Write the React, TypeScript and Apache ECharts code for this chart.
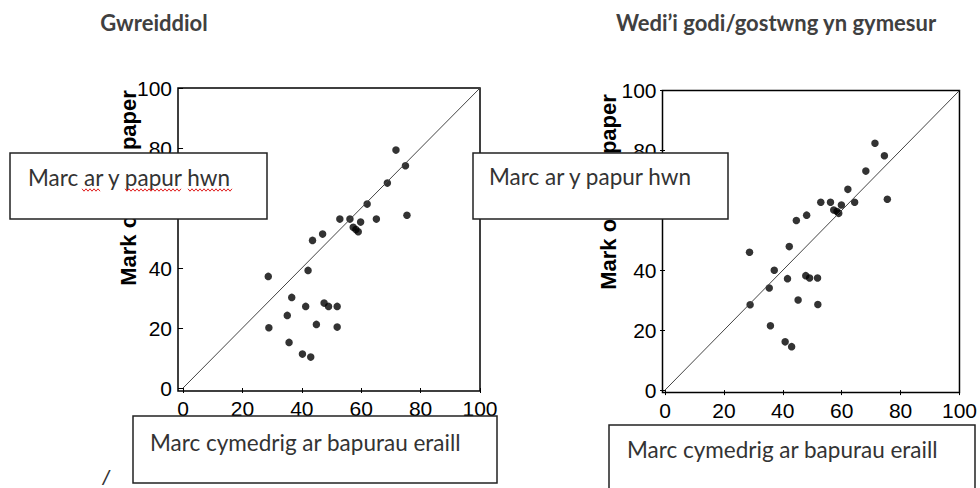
import React, { useEffect, useRef } from "react";
import * as echarts from "echarts";

// Original marks (left panel)
const xOrig = [71.7, 74.9, 68.8, 62.0, 75.4, 52.8, 56.2, 59.8, 65.1, 57.3, 58.2, 59.0, 47.0, 43.6, 42.1, 28.7, 36.6, 47.5, 49.0, 51.9, 41.3, 35.1, 44.9, 51.9, 28.9, 35.7, 40.2, 43.0];
const yOrig = [79.3, 74.1, 68.3, 61.3, 57.6, 56.3, 56.3, 55.3, 56.3, 53.6, 52.8, 52.1, 51.3, 49.2, 39.2, 37.2, 30.2, 28.3, 27.2, 27.2, 27.2, 24.2, 21.2, 20.3, 20.1, 15.2, 11.3, 10.3];
// Scaled marks (right panel)
const xAdj = [71.3, 74.5, 68.2, 62.1, 75.5, 52.9, 56.2, 59.9, 64.4, 57.3, 58.4, 59.0, 48.1, 44.6, 42.2, 28.7, 37.1, 47.8, 49.1, 51.8, 41.6, 35.4, 45.2, 51.9, 28.9, 35.8, 40.8, 43.0];
const yAdj = [82.4, 78.2, 73.1, 67.0, 63.7, 62.7, 62.7, 61.8, 62.7, 60.1, 59.6, 59.0, 58.4, 56.6, 47.9, 46.0, 40.0, 38.2, 37.4, 37.4, 37.2, 34.1, 30.1, 28.6, 28.5, 21.5, 16.1, 14.5];
// Identity reference line
const diagX = [0, 100];
const diagY = [0, 100];
const tickValues = [0, 20, 40, 60, 80, 100];

const titles = ["Gwreiddiol", "Wedi\u2019i godi/gostwng yn gymesur"];
const yName = "Mark on this paper";
const boxTop = "Marc ar y papur hwn";
const boxBottom = "Marc cymedrig ar bapurau eraill";

const zip = (a: number[], b: number[]) => a.map((v, i) => [v, b[i]]);

function squiggle(x0: number, x1: number, y: number) {
  const pts: number[][] = [];
  let up = true;
  for (let x = x0; x <= x1; x += 2) {
    pts.push([x, up ? y - 1.2 : y + 1.2]);
    up = !up;
  }
  return {
    type: "polyline",
    z: 110,
    shape: { points: pts },
    style: { stroke: "#e02020", lineWidth: 1, fill: null },
  };
}

export default function App() {
  const ref = useRef<HTMLDivElement>(null);
  useEffect(() => {
    if (!ref.current) return;
    const chart = echarts.init(ref.current, null, { renderer: "svg" });
    const axisFont = { fontSize: 21, color: "#000", fontFamily: "Liberation Sans" };
    const xAxisCfg = (gridIndex: number, min: number) => ({
      type: "value",
      gridIndex,
      min,
      max: 100,
      axisLine: { show: false },
      splitLine: { show: false },
      axisTick: { show: true, length: 5, customValues: tickValues, lineStyle: { color: "#000" } },
      axisLabel: { customValues: tickValues, margin: 7, ...axisFont },
    });
    const yAxisCfg = (gridIndex: number, min: number) => ({
      type: "value",
      gridIndex,
      min,
      max: 100,
      axisLine: { show: false },
      splitLine: { show: false },
      axisTick: { show: true, length: 5, customValues: tickValues, lineStyle: { color: "#000" } },
      axisLabel: { customValues: tickValues, margin: 6, ...axisFont },
    });
    const boxText = { fontSize: 22.5, fontFamily: "Lato", fill: "#333" };
    chart.setOption({
      animation: false,
      backgroundColor: "#fff",
      grid: [
        { left: 178, right: 500, top: 88, bottom: 97, show: true, borderColor: "#000", borderWidth: 1.5 },
        { left: 662.5, right: 18, top: 90.5, bottom: 95.5, show: true, borderColor: "#000", borderWidth: 1.5 },
      ],
      xAxis: [xAxisCfg(0, -1.7), xAxisCfg(1, -0.85)],
      yAxis: [yAxisCfg(0, -1), yAxisCfg(1, -0.8)],
      series: [
        {
          type: "line", xAxisIndex: 0, yAxisIndex: 0, data: zip(diagX, diagY), symbol: "none",
          lineStyle: { color: "#444", width: 1 }, silent: true,
        },
        {
          type: "scatter", xAxisIndex: 0, yAxisIndex: 0, data: zip(xOrig, yOrig), symbolSize: 7.5,
          itemStyle: { color: "#000" },
        },
        {
          type: "line", xAxisIndex: 1, yAxisIndex: 1, data: zip(diagX, diagY), symbol: "none",
          lineStyle: { color: "#444", width: 1 }, silent: true,
        },
        {
          type: "scatter", xAxisIndex: 1, yAxisIndex: 1, data: zip(xAdj, yAdj), symbolSize: 7.5,
          itemStyle: { color: "#000" },
        },
      ],
      graphic: [
        { type: "text", x: 154, y: 22, style: { text: titles[0], fontSize: 22, fontWeight: "bold", fontFamily: "Lato", fill: "#404040", textAlign: "center", textVerticalAlign: "middle" } },
        { type: "text", x: 776, y: 22, style: { text: titles[1], fontSize: 22, fontWeight: "bold", fontFamily: "Lato", fill: "#404040", textAlign: "center", textVerticalAlign: "middle" } },
        { type: "text", x: 128, y: 188, rotation: Math.PI / 2, style: { text: yName, fontSize: 22, fontWeight: "bold", fontFamily: "Liberation Sans", fill: "#000", textAlign: "center", textVerticalAlign: "middle" } },
        { type: "text", x: 608, y: 192, rotation: Math.PI / 2, style: { text: yName, fontSize: 22, fontWeight: "bold", fontFamily: "Liberation Sans", fill: "#000", textAlign: "center", textVerticalAlign: "middle" } },
        { type: "rect", z: 100, shape: { x: 10, y: 153, width: 257, height: 66 }, style: { fill: "#fff", stroke: "#222", lineWidth: 1.5 } },
        { type: "rect", z: 100, shape: { x: 473, y: 153, width: 255, height: 66 }, style: { fill: "#fff", stroke: "#222", lineWidth: 1.5 } },
        { type: "rect", z: 100, shape: { x: 133, y: 416, width: 364, height: 67 }, style: { fill: "#fff", stroke: "#222", lineWidth: 1.5 } },
        { type: "rect", z: 100, shape: { x: 609, y: 425, width: 366, height: 70 }, style: { fill: "#fff", stroke: "#222", lineWidth: 1.5 } },
        { type: "text", z: 110, x: 28, y: 177, style: { text: boxTop, ...boxText, textVerticalAlign: "middle" } },
        { type: "text", z: 110, x: 489, y: 176, style: { text: boxTop, ...boxText, textVerticalAlign: "middle" } },
        { type: "text", z: 110, x: 150, y: 442, style: { text: boxBottom, ...boxText, textVerticalAlign: "middle" } },
        { type: "text", z: 110, x: 627, y: 449, style: { text: boxBottom, ...boxText, textVerticalAlign: "middle" } },
        squiggle(82, 100, 190),
        squiggle(125, 182, 190),
        squiggle(188, 232, 190),
        { type: "text", x: 106, y: 477, style: { text: "/", fontSize: 21, fontStyle: "italic", fontFamily: "Liberation Sans", fill: "#333", textAlign: "center", textVerticalAlign: "middle" } },
      ],
    });
    return () => chart.dispose();
  }, []);
  return <div ref={ref} style={{ position: "absolute", left: 0, top: 0, width: 980, height: 488 }} />;
}
